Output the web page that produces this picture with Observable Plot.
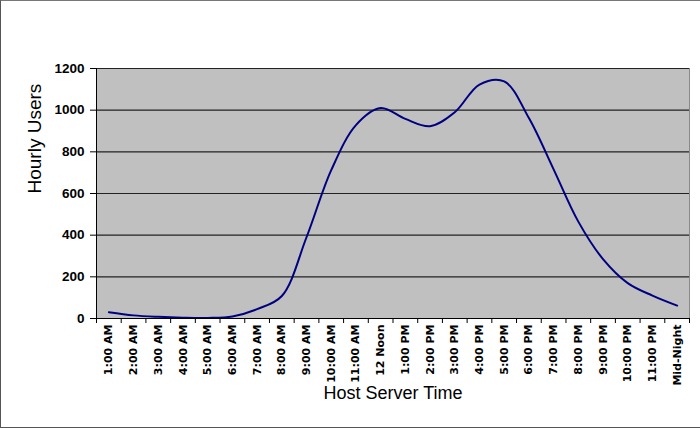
<!DOCTYPE html>
<html>
<head>
<meta charset="utf-8">
<script src="https://cdn.jsdelivr.net/npm/d3@7"></script>
<script src="https://cdn.jsdelivr.net/npm/@observablehq/plot@0.6"></script>
<style>
  html, body { margin: 0; padding: 0; background: white; }
  #wrap { position: relative; width: 700px; height: 428px; }
  #edge { position: absolute; left: 0; top: 0; width: 700px; height: 428px; box-sizing: border-box;
          border-left: 1px solid #555; border-top: 1px solid #777; border-bottom: 1px solid #555; pointer-events: none; }
</style>
</head>
<body>
<div id="wrap"><div id="edge"></div></div>
<script>
const hours = ["1:00 AM","2:00 AM","3:00 AM","4:00 AM","5:00 AM","6:00 AM","7:00 AM","8:00 AM","9:00 AM","10:00 AM","11:00 AM","12 Noon",
               "1:00 PM","2:00 PM","3:00 PM","4:00 PM","5:00 PM","6:00 PM","7:00 PM","8:00 PM","9:00 PM","10:00 PM","11:00 PM","Mid-Night"];
const users = [30,15,8,4,3,10,45,108,390,712,928,1010,958,923,990,1123,1138,962,716,465,285,170,110,62];
const yTicks = [0,200,400,600,800,1000,1200];
const yTitle = "Hourly Users";
const xTitle = "Host Server Time";

const rows = hours.map((h, i) => ({pos: i + 1, label: h, value: users[i]}));
const positions = rows.map(d => d.pos);
const boundaries = [0.5, ...positions.map(p => p + 0.5)];

const chart = Plot.plot({
  width: 700,
  height: 428,
  marginLeft: 96,
  marginRight: 11,
  marginTop: 68,
  marginBottom: 110,
  style: {fontFamily: "'Liberation Sans', Arial, sans-serif", background: "white", color: "black"},
  x: {domain: [0.5, hours.length + 0.5]},
  y: {domain: [0, 1200]},
  marks: [
    Plot.frame({fill: "#c0c0c0", stroke: "#8a8a8a"}),
    Plot.gridY(yTicks, {stroke: "#222", strokeOpacity: 1, strokeWidth: 1.2}),
    Plot.lineY(rows, {x: "pos", y: "value", curve: "catmull-rom", stroke: "#000080", strokeWidth: 2}),
    Plot.ruleX([0.5], {stroke: "black"}),
    Plot.ruleY([0], {stroke: "black"}),
    Plot.axisY(yTicks, {tickSize: 6, tickPadding: 6, tickFormat: d => String(d), fontWeight: "bold", fontSize: 13.5, label: null}),
    Plot.axisX(boundaries, {tickSize: 5, tickFormat: () => "", label: null}),
    Plot.axisX(positions, {tickSize: 0, tickPadding: 6, tickRotate: -90, tickFormat: p => hours[p - 1],
                           fontFamily: "'DejaVu Sans', sans-serif", fontWeight: "bold", fontSize: 11, label: null}),
    Plot.text([yTitle], {text: d => d, frameAnchor: "left", rotate: -90, dx: -62, fontSize: 19}),
    Plot.text([xTitle], {text: d => d, frameAnchor: "bottom", dy: 80, fontSize: 18, letterSpacing: "0.5px"})
  ]
});
document.getElementById("wrap").prepend(chart);
</script>
</body>
</html>
